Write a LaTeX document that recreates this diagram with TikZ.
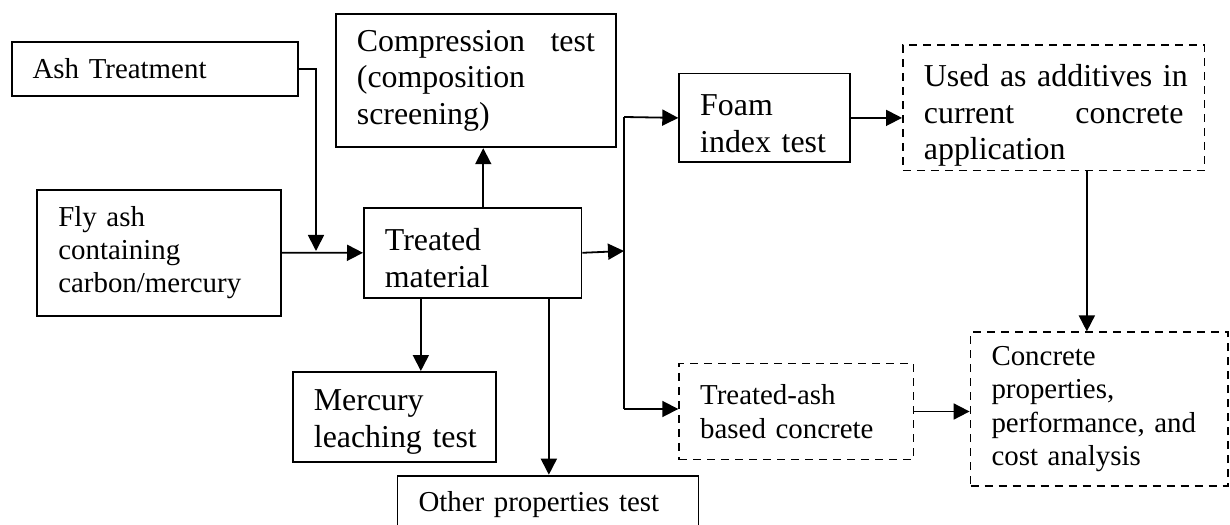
\documentclass[tikz,border=0pt]{standalone}
\usepackage{fontspec}
\setmainfont{Liberation Serif}
\usetikzlibrary{arrows.meta}

\begin{document}
\begin{tikzpicture}
  [x=0.5bp,y=-0.5bp,line width=0.9bp,
   box/.style={draw,anchor=north west,inner xsep=0pt,inner ysep=0pt,align=left},
   dbox/.style={box,dash pattern=on 4bp off 3bp},
   small/.style={font=\fontsize{14.5}{16.7}\selectfont},
   large/.style={font=\fontsize{16}{18.4}\selectfont},
   arr/.style={-{Triangle[length=8bp,width=8bp]}}]
  \useasboundingbox (0,0) rectangle (1230,525);
  % left column
  \node[box,small,minimum width=143bp,minimum height=27bp,text width=122bp] (ash) at (10.7,41) {\mbox{Ash Treatment}};
  \node[box,small,minimum width=121.8bp,minimum height=63bp,text width=100.8bp] (fly) at (36.4,188.8) {Fly ash\\containing\\\mbox{carbon/mercury}};
  % middle
  \node[box,large,minimum width=140bp,minimum height=66.5bp,text width=119bp] (comp) at (335,13.4) {\noindent\hbox to\hsize{Compression\hfill test}\\(composition\\screening)};
  \node[box,large,minimum width=108.75bp,minimum height=45bp,text width=87.75bp] (treat) at (363,206.9) {\rule{0pt}{16.5bp}Treated\\material};
  \node[box,large,minimum width=101.4bp,minimum height=45bp,text width=80.4bp] (merc) at (292,371) {\rule{0pt}{15.5bp}Mercury\\\mbox{leaching test}};
  \node[box,small,minimum width=150.5bp,minimum height=29bp,text width=129.5bp] (other) at (396.6,474.7) {\mbox{Other properties test}};
  % right
  \node[box,large,minimum width=85.4bp,minimum height=44.4bp,text width=64.4bp] (foam) at (678.3,72.6) {\rule{0pt}{16.5bp}Foam\\\mbox{index test}};
  \node[dbox,large,minimum width=150.75bp,minimum height=62.5bp,text width=129.75bp] (used) at (902,44.5) {\rule{0pt}{18.5bp}\mbox{Used as additives in}\\\noindent\hbox to\hsize{current\hfill concrete}\\application};
  \node[dbox,small,minimum width=117.15bp,minimum height=48bp,text width=96.15bp] (tash) at (678.3,362.6) {Treated-ash\\\mbox{based concrete}};
  \node[dbox,small,minimum width=128.7bp,minimum height=76.7bp,text width=107.7bp] (conc) at (969.6,331.4) {Concrete\\properties,\\\mbox{performance, and}\\cost analysis};

  \coordinate (join) at (316,251);
  \coordinate (split) at (624,251);
  \coordinate (split top) at (624,117);
  \coordinate (split bot) at (624,409);

  \draw[arr] (ash.east) -| (join);
  \draw[arr] (fly.east) -- (treat.west);
  \draw[arr] ([xshift=5.3bp]treat.north) -- ([xshift=5.3bp]treat.north |- comp.south);
  \foreach \dx/\to in {-25.9/merc,38.1/other}
    \draw[arr] ([xshift=\dx bp]treat.south) -- ([xshift=\dx bp]treat.south |- \to.north);
  \draw[arr] (treat.east) -- (split);
  \draw (split top) -- (split bot);
  \draw[arr] (split top) -- (foam.west);
  \draw[arr] (split bot) -- (split bot -| tash.west);
  \draw[arr] (foam.east) -- (foam.east -| used.west);
  \draw[arr] ([xshift=16.6bp]used.south) -- ([xshift=16.6bp]used.south |- conc.north);
  \draw[arr] (tash.east) -- (tash.east -| conc.west);
\end{tikzpicture}
\end{document}
